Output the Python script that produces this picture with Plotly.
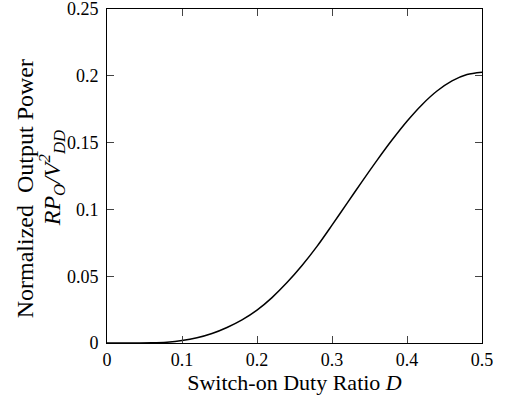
import plotly.graph_objects as go

duty = [0, 0.02, 0.04, 0.06, 0.08, 0.10, 0.12, 0.14, 0.16, 0.18, 0.20, 0.22, 0.24,
        0.26, 0.28, 0.30, 0.32, 0.34, 0.36, 0.38, 0.40, 0.42, 0.44, 0.46, 0.48, 0.50]
power = [0, 0, 0, 0.0001, 0.0006, 0.0018, 0.0039, 0.0071, 0.0116, 0.0173, 0.0246,
         0.0340, 0.0452, 0.0580, 0.0723, 0.0882, 0.1045, 0.1208, 0.1367, 0.1519,
         0.1660, 0.1784, 0.1886, 0.1962, 0.2010, 0.2027]

x_ticks = [0, 0.1, 0.2, 0.3, 0.4, 0.5]
x_tick_text = ["0", "0.1", "0.2", "0.3", "0.4", "0.5"]
y_ticks = [0, 0.05, 0.1, 0.15, 0.2, 0.25]
y_tick_text = ["0", "0.05", "0.1", "0.15", "0.2", "0.25"]

FONT = "Liberation Serif, Times New Roman, serif"

fig = go.Figure()
fig.add_trace(go.Scatter(x=duty, y=power, mode="lines",
                         line=dict(color="black", width=1.5, shape="spline", smoothing=0.8),
                         showlegend=False, hoverinfo="skip"))

axis_common = dict(showgrid=False, zeroline=False, showline=True, linecolor="black",
                   linewidth=1, mirror="ticks", ticks="inside", ticklen=7,
                   tickcolor="#444", tickwidth=1, ticklabeloverflow="allow",
                   automargin=False,
                   tickfont=dict(family=FONT, size=18, color="black"))

fig.update_xaxes(range=[0, 0.5], tickvals=x_ticks, ticktext=x_tick_text,
                 title=dict(text="Switch-on Duty Ratio <i>D</i>",
                            font=dict(family=FONT, size=22, color="black"),
                            standoff=2),
                 **axis_common)
fig.update_yaxes(range=[0, 0.25], tickvals=y_ticks, ticktext=y_tick_text,
                 ticklabelstandoff=4, **axis_common)

fig.add_annotation(text="Normalized&nbsp; Output Power", xref="paper", yref="paper",
                   x=-0.218, y=0.461, xanchor="center", yanchor="middle",
                   textangle=-90, showarrow=False,
                   font=dict(family=FONT, size=24, color="black"))
fig.add_annotation(text="<i>RP<sub>O</sub>/V<sup>2</sup><sub>DD</sub></i>", xref="paper", yref="paper",
                   x=-0.146, y=0.494, xanchor="center", yanchor="middle",
                   textangle=-90, showarrow=False,
                   font=dict(family=FONT, size=24, color="black"))

fig.update_layout(width=505, height=402,
                  margin=dict(l=107, r=23, t=9, b=59),
                  plot_bgcolor="white", paper_bgcolor="white",
                  font=dict(family=FONT, color="black"))

fig.write_html("out.html")
